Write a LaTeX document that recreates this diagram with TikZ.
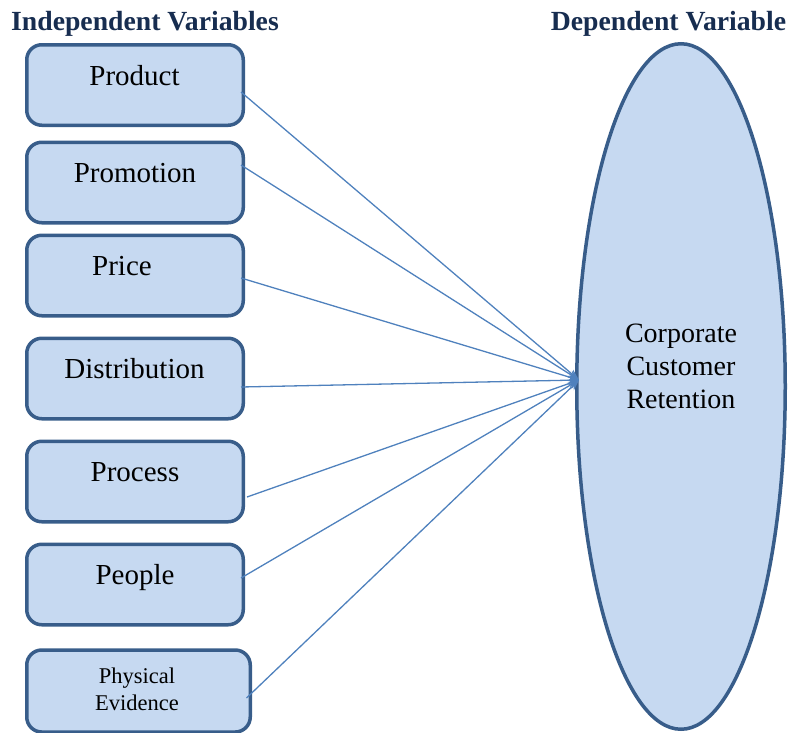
\documentclass[tikz,border=0pt]{standalone}
\usepackage{fontspec}
\setmainfont{Liberation Serif}
\usetikzlibrary{arrows.meta,shapes.geometric}
\definecolor{boxfill}{RGB}{198,217,241}
\definecolor{boxline}{RGB}{56,93,138}
\definecolor{arrowblue}{RGB}{79,129,189}
\definecolor{headnavy}{RGB}{23,45,80}
\tikzset{
  varbox/.style={draw=boxline, fill=boxfill, line width=3.5pt, rounded corners=15pt,
    minimum width=216.5pt, minimum height=80.5pt, inner sep=0pt},
  boxtext/.style={anchor=base, inner sep=0pt, font=\fontsize{29}{34}\selectfont},
  heading/.style={anchor=base, inner sep=0pt, text=headnavy, font=\fontsize{27.7}{32}\selectfont\bfseries},
  link/.style={draw=arrowblue, line width=1.3pt, -{Stealth[length=11pt,width=8pt]}}
}
\begin{document}
\begin{tikzpicture}[x=1pt,y=-1pt]
\useasboundingbox (0,0) rectangle (788,732);
% headings
\node[heading] (hIndep) at (145,30) {Independent Variables};
\node[heading] (hDep) at (668.5,30) {Dependent Variable};
% dependent ellipse
\node[draw=boxline, fill=boxfill, line width=3.5pt, ellipse, minimum width=208.5pt,
  minimum height=685.5pt, inner sep=0pt] (dep) at (681,386.5) {};
\node[boxtext, font=\fontsize{28}{33}\selectfont] (depText) at (681,342) {Corporate};
\node[boxtext, font=\fontsize{28}{33}\selectfont] (depText2) at (681,375) {Customer};
\node[boxtext, font=\fontsize{28}{33}\selectfont] (depText3) at (681,408) {Retention};
% boxes
\node[varbox] (b1) at (135,85) {};
\node[varbox] (b2) at (135,182.5) {};
\node[varbox] (b3) at (135,275.5) {};
\node[varbox] (b4) at (135,378.5) {};
\node[varbox] (b5) at (135,481.5) {};
\node[varbox] (b6) at (135,584.5) {};
\node[varbox, minimum width=223.5pt, minimum height=82pt] (b7) at (138.5,691) {};
% box texts
\node[boxtext] (t1) at (134.5,85) {Product};
\node[boxtext] (t2) at (135,182) {Promotion};
\node[boxtext] (t3) at (122,275) {Price};
\node[boxtext] (t4) at (134.5,378) {Distribution};
\node[boxtext] (t5) at (135,481) {Process};
\node[boxtext] (t6) at (135,584) {People};
\node[boxtext, font=\fontsize{22.5}{27}\selectfont] (t7a) at (137,683) {Physical};
\node[boxtext, font=\fontsize{22.5}{27}\selectfont] (t7b) at (137,710) {Evidence};
% connectors
\coordinate (hub) at (579,380);
\draw[link] ([xshift=-4pt,yshift=-7pt]b1.east) -- (hub);
\draw[link] ([xshift=-4pt,yshift=17.5pt]b2.east) -- (hub);
\draw[link] ([xshift=-4pt,yshift=-2.5pt]b3.east) -- (hub);
\draw[link] ([xshift=-4pt,yshift=-8.5pt]b4.east) -- (hub);
\draw[link] ([xshift=2pt,yshift=-15.5pt]b5.east) -- (hub);
\draw[link] ([xshift=-4pt,yshift=6.5pt]b6.east) -- (hub);
\draw[link] ([xshift=-5.5pt,yshift=-7pt]b7.east) -- (hub);
\end{tikzpicture}
\end{document}
